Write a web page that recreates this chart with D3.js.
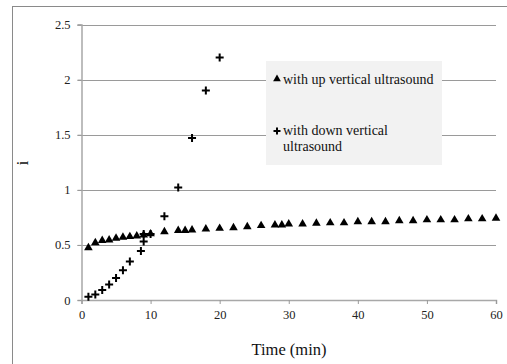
<!DOCTYPE html>
<html>
<head>
<meta charset="utf-8">
<script src="https://cdn.jsdelivr.net/npm/d3@7"></script>
<style>
	body { margin: 0; background: #fff; }
	svg { display: block; }
	svg text { font-family: "Liberation Serif", "Times New Roman", serif; }
</style>
</head>
<body>
<svg></svg>
<script>

// DATA

var up_time = [1, 2, 3, 4, 5, 6, 7, 8, 9, 10, 12, 14, 15, 16, 18, 20, 22, 24, 26, 28, 29, 30,
	32, 34, 36, 38, 40, 42, 44, 46, 48, 50, 52, 54, 56, 58, 60]
var up_i = [0.475, 0.52, 0.54, 0.545, 0.56, 0.57, 0.575, 0.58, 0.59, 0.6, 0.62, 0.63, 0.63, 0.635,
	0.645, 0.65, 0.655, 0.665, 0.675, 0.68, 0.68, 0.69, 0.69, 0.697, 0.7, 0.7, 0.71, 0.71, 0.71,
	0.72, 0.72, 0.727, 0.727, 0.727, 0.736, 0.736, 0.742]

var down_time = [1, 2, 3, 4, 5, 6, 7, 8.6, 9, 9, 10, 12, 14, 16, 18, 20]
var down_i = [0.03, 0.05, 0.09, 0.14, 0.2, 0.27, 0.35, 0.445, 0.53, 0.6, 0.6, 0.76, 1.02, 1.47, 1.9, 2.2]

var x_ticks = [0, 10, 20, 30, 40, 50, 60]
var y_ticks = [0, 0.5, 1, 1.5, 2, 2.5]

var legend_up = ['with up vertical ultrasound']
var legend_down = ['with down vertical', 'ultrasound']

// VIS

var width = 507
var height = 364
var serif = '"Liberation Serif", "Times New Roman", serif'

var svg = d3.select("svg")
	.attr("width", width)
	.attr("height", height)

// outer frame (cut by the window on the right and bottom)
svg.append("rect")
	.attr("x", 12.5).attr("y", 6.5)
	.attr("width", 520).attr("height", 380)
	.attr("fill", "#fff")
	.attr("stroke", "#8a8a8a")

var x = d3.scaleLinear().domain([0, 60]).range([81.5, 496])
var y = d3.scaleLinear().domain([0, 2.5]).range([300, 24.5])

// gridlines
svg.append("g")
	.selectAll("line")
	.data(y_ticks.filter(function(d) { return d > 0 }))
	.enter().append("line")
	.attr("x1", x(0) - 4).attr("x2", x(60))
	.attr("y1", function(d) { return Math.round(y(d)) + 0.5 })
	.attr("y2", function(d) { return Math.round(y(d)) + 0.5 })
	.attr("stroke", "#9a9a9a")

// y axis
var yAxis = svg.append("g")
	.attr("transform", "translate(" + x(0) + ",0)")
	.call(d3.axisLeft(y).tickValues(y_ticks).tickSize(4).tickPadding(7)
		.tickFormat(function(d) { return d3.format("")(d) }))
	.attr("font-family", serif)
yAxis.select(".domain").attr("stroke", "#a8a8a8").attr("stroke-width", 1.5)
yAxis.selectAll(".tick line").attr("stroke", "#9a9a9a")
yAxis.selectAll("text").attr("font-size", 12.5).attr("fill", "#222")

// x axis
var xAxis = svg.append("g")
	.attr("transform", "translate(0," + y(0) + ")")
	.call(d3.axisBottom(x).tickValues(x_ticks).tickSize(4).tickPadding(6))
	.attr("font-family", serif)
xAxis.select(".domain").attr("stroke", "#a8a8a8").attr("stroke-width", 1.5)
xAxis.selectAll(".tick line").attr("stroke", "#9a9a9a")
xAxis.selectAll("text").attr("font-size", 12.5).attr("fill", "#222")

// axis titles
svg.append("text")
	.attr("x", 289).attr("y", 355)
	.attr("text-anchor", "middle")
	.attr("font-size", 16.5)
	.attr("fill", "#111")
	.text("Time (min)")

svg.append("text")
	.attr("transform", "translate(28,163) rotate(-90)")
	.attr("text-anchor", "middle")
	.attr("font-size", 16)
	.attr("fill", "#111")
	.text("i")

// markers
var tri = d3.symbol().type(d3.symbolTriangle).size(32)
var plus = "M-4,0H4M0,-4V4"

svg.append("g")
	.selectAll("path")
	.data(up_time)
	.enter().append("path")
	.attr("d", tri)
	.attr("fill", "#000")
	.attr("transform", function(d, i) { return "translate(" + x(d) + "," + y(up_i[i]) + ")" })

svg.append("g")
	.selectAll("path")
	.data(down_time)
	.enter().append("path")
	.attr("d", plus)
	.attr("stroke", "#000")
	.attr("stroke-width", 2)
	.attr("transform", function(d, i) { return "translate(" + x(d) + "," + y(down_i[i]) + ")" })

// legend
var legend = svg.append("g")

legend.append("rect")
	.attr("x", 266).attr("y", 61)
	.attr("width", 176).attr("height", 104)
	.attr("fill", "#f2f2f2")

legend.append("path")
	.attr("d", d3.symbol().type(d3.symbolTriangle).size(26))
	.attr("transform", "translate(277,79)")
	.attr("fill", "#000")

legend.append("text")
	.attr("x", 283).attr("y", 84)
	.attr("font-size", 14)
	.attr("fill", "#111")
	.text(legend_up[0])

legend.append("path")
	.attr("d", "M-3.5,0H3.5M0,-3.5V3.5")
	.attr("stroke", "#000")
	.attr("stroke-width", 2)
	.attr("transform", "translate(277,131)")

legend.selectAll(".down-line")
	.data(legend_down)
	.enter().append("text")
	.attr("class", "down-line")
	.attr("x", 283)
	.attr("y", function(d, i) { return 135 + i * 16 })
	.attr("font-size", 14)
	.attr("fill", "#111")
	.text(function(d) { return d })

</script>
</body>
</html>
